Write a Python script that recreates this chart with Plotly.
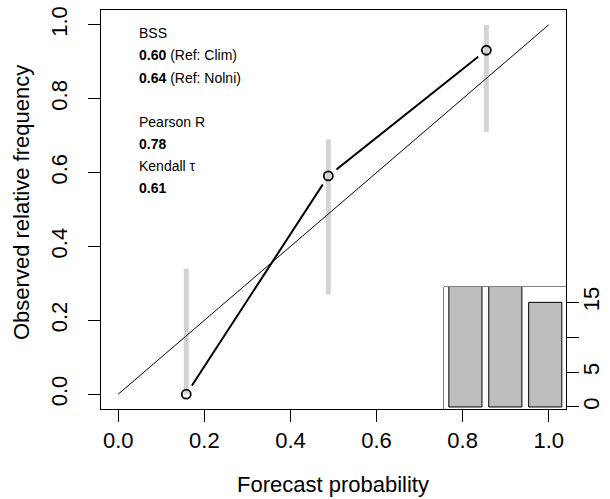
import plotly.graph_objects as go

# ---- data ----
forecast_prob = [0.158, 0.488, 0.855]
observed_freq = [0.0, 0.591, 0.931]
ci_lower = [0.0, 0.27, 0.71]
ci_upper = [0.34, 0.69, 1.0]

hist_bins = [1, 2, 3]
hist_counts = [18, 18, 15]

axis_ticks = [0.0, 0.2, 0.4, 0.6, 0.8, 1.0]
axis_ticktext = ["0.0", "0.2", "0.4", "0.6", "0.8", "1.0"]
hist_ticks = [0, 5, 10, 15]
hist_ticktext = ["0", "5", "", "15"]

stats_lines = [
    "BSS",
    "<b>0.60</b> (Ref: Clim)",
    "<b>0.64</b> (Ref: Nolni)",
    "Pearson R",
    "<b>0.78</b>",
    "Kendall τ",
    "<b>0.61</b>",
]

# ---- layout geometry ----
W, H = 610, 499
L, R, T, B = 101, 44, 10, 90
pw, ph = W - L - R, H - T - B


def fx(px):
    return (px - L) / pw


def fy(py):
    return (H - B - py) / ph


FONT = "Liberation Sans, Arial, Helvetica, sans-serif"

fig = go.Figure()

# black reliability line
fig.add_trace(go.Scatter(x=forecast_prob, y=observed_freq, mode="lines",
                         line=dict(color="black", width=2), hoverinfo="skip",
                         showlegend=False))
# white halos to create gaps near points (type="b" look)
fig.add_trace(go.Scatter(x=forecast_prob, y=observed_freq, mode="markers",
                         marker=dict(size=21, color="white", line=dict(width=0)),
                         hoverinfo="skip", showlegend=False))
# confidence bars
cx, cy = [], []
for f, lo, hi in zip(forecast_prob, ci_lower, ci_upper):
    cx += [f, f, None]
    cy += [lo, hi, None]
fig.add_trace(go.Scatter(x=cx, y=cy, mode="lines",
                         line=dict(color="#d3d3d3", width=5), hoverinfo="skip",
                         showlegend=False))
# diagonal
fig.add_trace(go.Scatter(x=[axis_ticks[0], axis_ticks[-1]], y=[axis_ticks[0], axis_ticks[-1]],
                         mode="lines", line=dict(color="black", width=1),
                         hoverinfo="skip", showlegend=False))
# points (open circles)
fig.add_trace(go.Scatter(x=forecast_prob, y=observed_freq, mode="markers",
                         marker=dict(size=9, color="rgba(0,0,0,0)", symbol="circle",
                                     line=dict(width=1.8, color="black")),
                         showlegend=False))

# inset histogram
fig.add_trace(go.Bar(x=hist_bins, y=hist_counts, width=0.83,
                     marker=dict(color="#bebebe", line=dict(color="black", width=1)),
                     xaxis="x2", yaxis="y2", showlegend=False))

inset_left = fx(444)
inset_top = fy(287)

fig.update_layout(
    width=W, height=H,
    margin=dict(l=L, r=R, t=T, b=B, pad=0, autoexpand=False),
    paper_bgcolor="white", plot_bgcolor="white",
    font=dict(family=FONT, color="black", size=22),
    xaxis=dict(range=[-0.04, 1.04], tickvals=axis_ticks, ticktext=axis_ticktext,
               ticks="outside", ticklen=12, tickwidth=1, tickcolor="black",
               showline=True, mirror=True, linecolor="black", linewidth=1,
               showgrid=False, zeroline=False, ticklabelstandoff=0, automargin=False,
               tickfont=dict(size=22, family=FONT)),
    yaxis=dict(range=[-0.04, 1.04], tickvals=axis_ticks, ticktext=axis_ticktext,
               ticks="outside", ticklen=12, tickwidth=1, tickcolor="black",
               showline=True, mirror=True, linecolor="black", linewidth=1,
               showgrid=False, zeroline=False, tickangle=-90, ticklabelstandoff=12,
               automargin=False, tickfont=dict(size=22, family=FONT)),
    xaxis2=dict(domain=[inset_left, 1.0], anchor="y2", range=[0.464, 3.52],
                showticklabels=False, ticks="", showline=False, showgrid=False,
                zeroline=False, automargin=False),
    yaxis2=dict(domain=[0.0, inset_top], anchor="x2", side="right",
                range=[-0.29, 17.2], tickvals=hist_ticks, ticktext=hist_ticktext,
                ticks="outside", ticklen=12, tickwidth=1, tickcolor="black",
                showline=False, showgrid=False, zeroline=False, tickangle=-90,
                ticklabelstandoff=-6, automargin=False,
                tickfont=dict(size=22, family=FONT)),
    shapes=[dict(type="rect", xref="paper", yref="paper",
                 x0=inset_left, x1=1.0, y0=0.0, y1=inset_top,
                 line=dict(color="black", width=1), fillcolor="white",
                 layer="below")],
)

annotations = []
line_y_px = [32.7, 55.0, 77.7, 121.7, 144.3, 166.0, 188.3]
for txt, ypx in zip(stats_lines, line_y_px):
    annotations.append(dict(text=txt, xref="paper", yref="paper",
                            x=fx(137), y=fy(ypx), xanchor="left", yanchor="middle",
                            showarrow=False, font=dict(size=14, family=FONT)))
annotations.append(dict(text="Forecast probability", xref="paper", yref="paper",
                        x=fx(333), y=fy(484), xanchor="center", yanchor="middle",
                        showarrow=False, font=dict(size=22, family=FONT)))
annotations.append(dict(text="Observed relative frequency", xref="paper", yref="paper",
                        x=fx(21), y=fy(203), xanchor="center", yanchor="middle",
                        textangle=-90, showarrow=False, font=dict(size=22, family=FONT)))
fig.update_layout(annotations=annotations)

fig.write_html("out.html", config={"displayModeBar": False},
               post_script="document.body.style.margin='0';document.body.style.overflow='hidden';")
